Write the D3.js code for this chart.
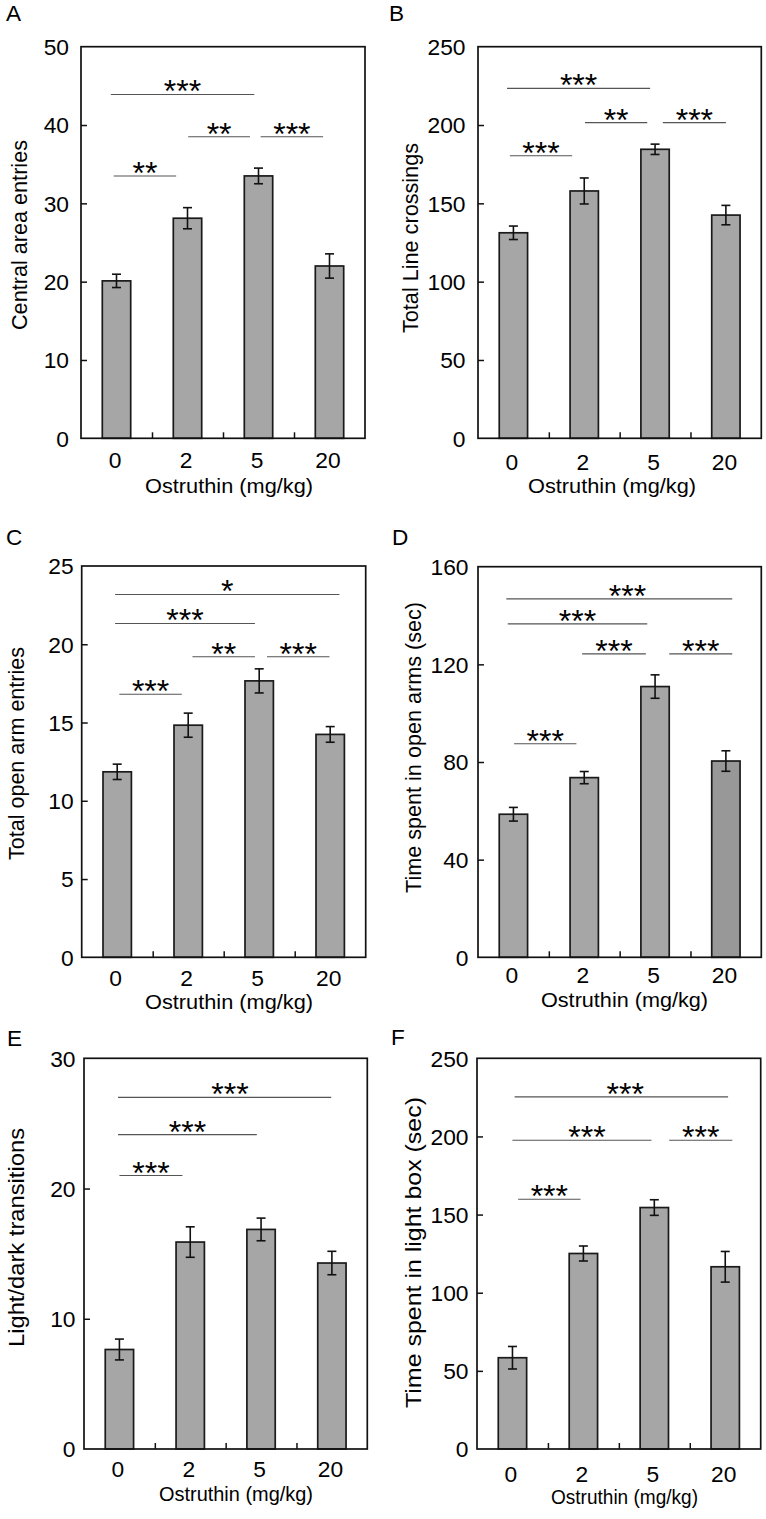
<!DOCTYPE html>
<html><head><meta charset="utf-8">
<script src="https://cdn.jsdelivr.net/npm/d3@7/dist/d3.min.js"></script>
<style>
body{margin:0;background:#fff}
svg{display:block}
text{font-family:"Liberation Sans",Arial,Helvetica,sans-serif;fill:#000}
</style>
</head><body>
<svg id="chart" width="766" height="1519"></svg>
<script>
// ---------------- DATA ----------------
const categories = ["0", "2", "5", "20"];
const xTitleText = "Ostruthin (mg/kg)";
const panelLetters = ["A", "B", "C", "D", "E", "F"];
const yTitles = [
  "Central area entries",
  "Total Line crossings",
  "Total open arm entries",
  "Time spent in open arms (sec)",
  "Light/dark transitions",
  "Time spent in light box (sec)"
];

const meansA = [20.1, 28.1, 33.5, 22.0];
const errA   = [0.85, 1.35, 1.0, 1.55];
const meansB = [131.2, 157.9, 184.5, 142.5];
const errB   = [4.3, 8.3, 3.3, 6.2];
const meansC = [11.85, 14.83, 17.66, 14.24];
const errC   = [0.49, 0.77, 0.77, 0.5];
const meansD = [58.6, 73.6, 110.9, 80.4];
const errD   = [2.8, 2.5, 4.8, 4.2];
const meansE = [7.64, 15.89, 16.86, 14.28];
const errE   = [0.8, 1.17, 0.87, 0.9];
const meansF = [58.4, 125.1, 154.5, 116.6];
const errF   = [7.2, 4.8, 5.0, 9.8];

const ticksA = [0, 10, 20, 30, 40, 50];
const ticksB = [0, 50, 100, 150, 200, 250];
const ticksC = [0, 5, 10, 15, 20, 25];
const ticksD = [0, 40, 80, 120, 160];
const ticksE = [0, 10, 20, 30];
const ticksF = [0, 50, 100, 150, 200, 250];

// significance brackets: [from (category index), to (category index), y value, label, label centre (category index, optional)]
const sigA = [[-0.08, 1.94, 43.9, "***"], [1.01, 1.88, 38.5, "**"], [2.03, 2.91, 38.5, "***"], [-0.04, 0.84, 33.5, "**"]];
const sigB = [[-0.09, 1.93, 223.4, "***"], [1.01, 1.89, 201.5, "**"], [2.11, 3.0, 201.5, "***"], [-0.05, 0.83, 180.4, "***"]];
const sigC = [[-0.03, 3.13, 23.18, "*"], [-0.03, 1.94, 21.33, "***"], [1.06, 1.94, 19.2, "**"], [2.11, 2.99, 19.2, "***"], [0.03, 0.91, 16.81, "***"]];
const sigD = [[-0.10, 3.09, 146.8, "***", 1.61], [-0.08, 1.89, 136.6, "***"], [0.97, 1.87, 124.3, "***"], [2.2, 3.09, 124.3, "***"], [0.01, 0.89, 87.5, "***"]];
const sigE = [[-0.02, 2.99, 27.0, "***", 1.56], [-0.02, 1.94, 24.14, "***"], [0.0, 0.89, 21.0, "***"]];
const sigF = [[0.03, 3.04, 225.3, "***", 1.59], [0.0, 1.96, 197.6, "***", 1.05], [2.21, 3.10, 197.6, "***"], [0.08, 0.96, 159.8, "***"]];

const barColors = [
  ["#a6a6a6", "#a6a6a6", "#a6a6a6", "#a6a6a6"],
  ["#a6a6a6", "#a6a6a6", "#a6a6a6", "#a6a6a6"],
  ["#a6a6a6", "#a6a6a6", "#a6a6a6", "#a6a6a6"],
  ["#a6a6a6", "#a6a6a6", "#a6a6a6", "#989898"],
  ["#a6a6a6", "#a6a6a6", "#a6a6a6", "#a6a6a6"],
  ["#a6a6a6", "#a6a6a6", "#a6a6a6", "#a6a6a6"]
];

const panelData = [
  {means: meansA, errs: errA, ticks: ticksA, sig: sigA},
  {means: meansB, errs: errB, ticks: ticksB, sig: sigB},
  {means: meansC, errs: errC, ticks: ticksC, sig: sigC},
  {means: meansD, errs: errD, ticks: ticksD, sig: sigD},
  {means: meansE, errs: errE, ticks: ticksE, sig: sigE},
  {means: meansF, errs: errF, ticks: ticksF, sig: sigF}
];

// ---------------- LAYOUT ----------------
const layouts = [
  {box: [81, 46.7, 365, 438.3], letter: [6, 21], tickGap: 12, xLabY: 468, xTitle: [229, 493, 168], yTitle: [27, 235, 190]},
  {box: [478, 46.7, 761.3, 438.3], letter: [389, 21], tickGap: 12.5, xLabY: 470, xTitle: [612, 493, 168], yTitle: [418, 238, 190]},
  {box: [81.7, 566, 365.7, 957.3], letter: [6, 545], tickGap: 8, xLabY: 986, xTitle: [229, 1009, 168], yTitle: [23.5, 753.5, 213]},
  {box: [478, 566.7, 761.3, 957.3], letter: [392, 545], tickGap: 9.5, xLabY: 983, xTitle: [624.5, 1007, 167], yTitle: [421, 747.5, 291]},
  {box: [84, 1058.3, 367.3, 1449], letter: [7, 1046], tickGap: 8.5, xLabY: 1476.5, xTitle: [236, 1501, 154], yTitle: [23.5, 1237.5, 219]},
  {box: [477, 1058.3, 760.7, 1449], letter: [391, 1045], tickGap: 8.5, xLabY: 1482, xTitle: [624.5, 1504, 147], yTitle: [421, 1252.5, 311]}
];

const FONT = 21.5;
const STRETCH = 1.06;

function stretch(sel, k) {
  sel.each(function() {
    const w = this.getComputedTextLength();
    this.setAttribute("textLength", w * k);
    this.setAttribute("lengthAdjust", "spacingAndGlyphs");
  });
}

const svg = d3.select("#chart");

layouts.forEach((L, i) => {
  const P = panelData[i];
  const [x0, y0, x1, y1] = L.box;
  const x = d3.scaleBand().domain(categories).range([x0, x1]).padding(0);
  const pos = d3.scaleLinear().domain([-0.5, 3.5]).range([x0, x1]);
  const y = d3.scaleLinear().domain([0, d3.max(P.ticks)]).range([y1, y0]);
  const g = svg.append("g");

  // bars
  g.selectAll("rect.bar").data(P.means).join("rect")
    .attr("class", "bar")
    .attr("x", (d, j) => x(categories[j]) + x.bandwidth() * 0.3)
    .attr("width", x.bandwidth() * 0.4)
    .attr("y", d => y(d))
    .attr("height", d => y(0) - y(d))
    .attr("fill", (d, j) => barColors[i][j])
    .attr("stroke", "#1a1a1a")
    .attr("stroke-width", 1.7);

  // error bars
  const eb = g.selectAll("g.err").data(P.means).join("g").attr("class", "err");
  eb.append("line")
    .attr("x1", (d, j) => x(categories[j]) + x.bandwidth() / 2)
    .attr("x2", (d, j) => x(categories[j]) + x.bandwidth() / 2)
    .attr("y1", (d, j) => y(d - P.errs[j]))
    .attr("y2", (d, j) => y(d + P.errs[j]))
    .attr("stroke", "#111").attr("stroke-width", 1.6);
  [-1, 1].forEach(s => {
    eb.append("line")
      .attr("x1", (d, j) => x(categories[j]) + x.bandwidth() / 2 - 4.5)
      .attr("x2", (d, j) => x(categories[j]) + x.bandwidth() / 2 + 4.5)
      .attr("y1", (d, j) => y(d + s * P.errs[j]))
      .attr("y2", (d, j) => y(d + s * P.errs[j]))
      .attr("stroke", "#111").attr("stroke-width", 1.6);
  });

  // frame
  g.append("rect")
    .attr("x", x0).attr("y", y0).attr("width", x1 - x0).attr("height", y1 - y0)
    .attr("fill", "none").attr("stroke", "#111").attr("stroke-width", 1.7);

  // y axis
  const ya = g.append("g").attr("transform", `translate(${x0},0)`)
    .call(d3.axisLeft(y).tickValues(P.ticks).tickSizeInner(-6).tickSizeOuter(0).tickPadding(L.tickGap).tickFormat(d3.format("d")));
  ya.select(".domain").remove();
  ya.selectAll("line").attr("stroke", "#111").attr("stroke-width", 1.5);
  ya.selectAll("text").attr("font-size", FONT).attr("font-family", null).attr("dy", "0.36em")
    .call(stretch, STRETCH);
  ya.selectAll(".tick").filter(d => d === 0 || d === d3.max(P.ticks)).select("line").remove();

  // x axis: ticks between categories (inward)
  const xb = g.append("g").attr("transform", `translate(0,${y1})`)
    .call(d3.axisBottom(pos).tickValues([0.5, 1.5, 2.5]).tickSizeInner(-6).tickSizeOuter(0).tickFormat(""));
  xb.select(".domain").remove();
  xb.selectAll("line").attr("stroke", "#111").attr("stroke-width", 1.5);

  // x category labels
  g.selectAll("text.xlab").data(categories).join("text")
    .attr("class", "xlab")
    .attr("x", d => x(d) + x.bandwidth() / 2 - 1.5)
    .attr("y", L.xLabY)
    .attr("text-anchor", "middle")
    .attr("font-size", FONT)
    .text(d => d)
    .call(stretch, STRETCH);

  // x title
  g.append("text")
    .attr("x", L.xTitle[0]).attr("y", L.xTitle[1])
    .attr("text-anchor", "middle").attr("font-size", 20.5)
    .attr("textLength", L.xTitle[2]).attr("lengthAdjust", "spacingAndGlyphs")
    .text(xTitleText);

  // y title
  g.append("text")
    .attr("transform", `translate(${L.yTitle[0]},${L.yTitle[1]}) rotate(-90)`)
    .attr("text-anchor", "middle").attr("font-size", 22)
    .attr("textLength", L.yTitle[2]).attr("lengthAdjust", "spacingAndGlyphs")
    .text(yTitles[i]);

  // panel letter
  g.append("text")
    .attr("x", L.letter[0]).attr("y", L.letter[1])
    .attr("font-size", 21.5)
    .text(panelLetters[i])
    .call(stretch, 1.05);

  // significance brackets
  P.sig.forEach(s => {
    const [a, b, v, lab, c] = s;
    g.append("line")
      .attr("x1", pos(a)).attr("x2", pos(b))
      .attr("y1", y(v)).attr("y2", y(v))
      .attr("stroke", "#555").attr("stroke-width", 1.1);
    g.append("text")
      .attr("x", pos(c !== undefined ? c : (a + b) / 2))
      .attr("y", y(v) + 8)
      .attr("text-anchor", "middle")
      .attr("font-size", 32)
      .attr("fill", "#222")
      .attr("letter-spacing", 0)
      .text(lab);
  });
});
</script>
</body></html>
